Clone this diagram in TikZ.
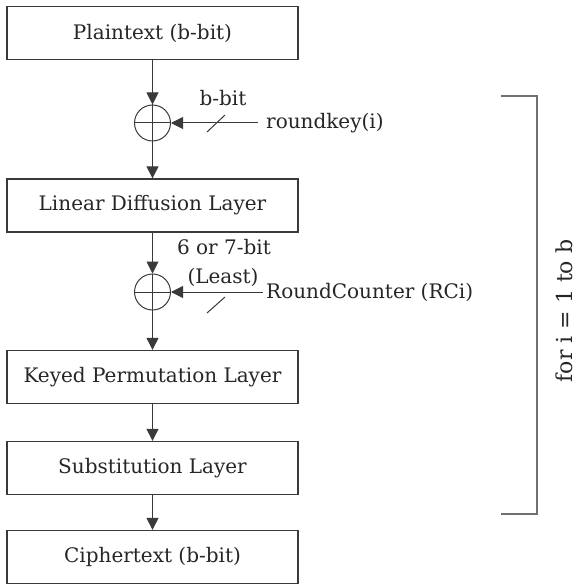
\documentclass[tikz,border=0pt]{standalone}
\usepackage{fontspec}
\setmainfont{DejaVu Serif}
\usetikzlibrary{arrows.meta}
\definecolor{txt}{HTML}{262626}
\definecolor{ln}{HTML}{3A3A3A}
\definecolor{brk}{HTML}{707070}
\begin{document}
\begin{tikzpicture}[x=1pt,y=-1pt,
  blk/.style={draw=ln,line width=1.3pt,minimum width=291pt,minimum height=53pt,inner sep=0pt,text=txt,font=\fontsize{20}{24}\selectfont},
  xorc/.style={draw=ln,line width=1pt,circle,minimum size=36pt,inner sep=0pt},
  lbl/.style={text=txt,font=\fontsize{20}{24}\selectfont,inner sep=0pt},
  arr/.style={draw=ln,line width=1pt,-{Triangle[length=12pt,width=12pt]}},
  ]
\useasboundingbox (0,0) rectangle (576,585);
\node[blk] (pt) at (152.5,33) {Plaintext (b-bit)};
\node[xorc] (x1) at (152.5,123) {};
\node[blk] (ld) at (152.5,205.5) {Linear Diffusion Layer};
\node[xorc] (x2) at (152.5,292) {};
\node[blk] (kp) at (152.5,377) {Keyed Permutation Layer};
\node[blk] (sl) at (152.5,468) {Substitution Layer};
\node[blk] (ct) at (152.5,557) {Ciphertext (b-bit)};
% xor crosses
\draw[ln,line width=1pt] (x1.north) -- (x1.south) (x1.west) -- (x1.east);
\draw[ln,line width=1pt] (x2.north) -- (x2.south) (x2.west) -- (x2.east);
% vertical arrows
\draw[arr] (pt) -- (x1);
\draw[arr] (x1) -- (ld);
\draw[arr] (ld) -- (x2);
\draw[arr] (x2) -- (kp);
\draw[arr] (kp) -- (sl);
\draw[arr] (sl) -- (ct);
% side inputs
\node[lbl,anchor=west] (rk) at (266,123) {roundkey(i)};
\coordinate (rkin) at (258,123);
\draw[arr] (rkin) -- (x1);
\node[lbl] (bb) at (223,98) {b-bit};
\draw[ln,line width=1pt] (207,132) -- (225,115);
\node[lbl,anchor=west] (rc) at (266,292) {RoundCounter (RCi)};
\coordinate (rcin) at (263,292);
\draw[arr] (rcin) -- (x2);
\node[lbl] (sb) at (224,247) {6 or 7-bit};
\node[lbl] (le) at (223,277) {(Least)};
\draw[ln,line width=1pt] (207,313) -- (225,297);
% bracket
\coordinate (b1) at (501,96);
\coordinate (b2) at (537,96);
\coordinate (b3) at (537,514);
\coordinate (b4) at (501,514);
\draw[brk,line width=1.2pt] (b1) -- (b2) -- (b3) -- (b4);
\node[lbl,rotate=90,font=\fontsize{22}{24}\selectfont] (loop) at (564,311) {for i = 1 to b};
\end{tikzpicture}
\end{document}
